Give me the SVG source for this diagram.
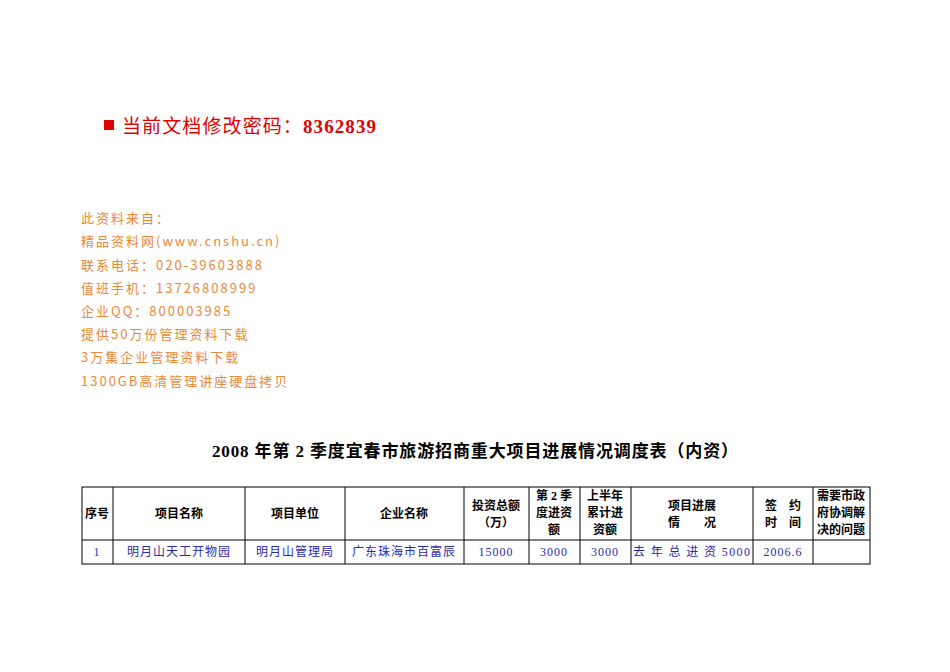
<svg xmlns="http://www.w3.org/2000/svg" width="950" height="672" viewBox="0 0 950 672">
<style>
.o{font-family:"Noto Sans CJK SC",sans-serif;font-size:13px;fill:#E8893A;letter-spacing:2px}
.h{font-family:"Liberation Serif","Noto Sans CJK SC",serif;font-size:12px;font-weight:bold;fill:#000;text-anchor:middle}
.c{font-family:"Liberation Serif","Noto Sans CJK SC",serif;font-size:12px;fill:#2B2BA8;text-anchor:middle;letter-spacing:1px}
.l{stroke:#000;stroke-width:1;fill:none}
</style>
<rect width="950" height="672" fill="#fff"/>
<g id="password">
<rect x="104" y="120" width="10" height="10" fill="#E00000"/>
<text x="122" y="133" font-family="Liberation Serif,'Noto Sans CJK SC',serif" font-size="19" fill="#E00000" textLength="254">当前文档修改密码：<tspan font-weight="bold">8362839</tspan></text>
</g>
<g id="info">
<text class="o" x="81" y="223">此资料来自：</text>
<text class="o" x="81" y="246">精品资料网(www.cnshu.cn)</text>
<text class="o" x="81" y="270">联系电话：020-39603888</text>
<text class="o" x="81" y="293">值班手机：13726808999</text>
<text class="o" x="81" y="316">企业QQ：800003985</text>
<text class="o" x="81" y="339">提供50万份管理资料下载</text>
<text class="o" x="81" y="362">3万集企业管理资料下载</text>
<text class="o" x="81" y="386">1300GB高清管理讲座硬盘拷贝</text>
</g>
<g id="title">
<text x="212" y="457" font-family="Liberation Serif,'Noto Sans CJK SC',serif" font-size="17" font-weight="bold" textLength="526">2008 年第 2 季度宜春市旅游招商重大项目进展情况调度表（内资）</text>
</g>
<g id="table">
<rect class="l" x="82" y="487" width="788" height="77"/>
<line class="l" x1="82" y1="540" x2="870" y2="540"/>
<path class="l" d="M113 487V564M245 487V564M345 487V564M464 487V564M529 487V564M580 487V564M631 487V564M753 487V564M813 487V564"/>
<text class="h" x="97" y="518">序号</text>
<text class="h" x="179" y="518">项目名称</text>
<text class="h" x="295" y="518">项目单位</text>
<text class="h" x="404" y="518">企业名称</text>
<text class="h" x="496" y="510">投资总额</text><text class="h" x="496" y="527">（万）</text>
<text class="h" x="554" y="500">第 2 季</text><text class="h" x="554" y="517">度进资</text><text class="h" x="554" y="534">额</text>
<text class="h" x="605" y="500">上半年</text><text class="h" x="605" y="517">累计进</text><text class="h" x="605" y="534">资额</text>
<text class="h" x="692" y="510">项目进展</text><text class="h" x="692" y="527">情　　况</text>
<text class="h" x="783" y="510">签　约</text><text class="h" x="783" y="527">时　间</text>
<text class="h" x="841" y="500">需要市政</text><text class="h" x="841" y="517">府协调解</text><text class="h" x="841" y="534">决的问题</text>
<text class="c" x="97" y="556">1</text>
<text class="c" x="179" y="556">明月山天工开物园</text>
<text class="c" x="295" y="556">明月山管理局</text>
<text class="c" x="404" y="556">广东珠海市百富辰</text>
<text class="c" x="496" y="556">15000</text>
<text class="c" x="554" y="556">3000</text>
<text class="c" x="605" y="556">3000</text>
<text class="c" x="692" y="556" textLength="118">去 年 总 进 资 5000</text>
<text class="c" x="783" y="556">2006.6</text>
</g>
</svg>
